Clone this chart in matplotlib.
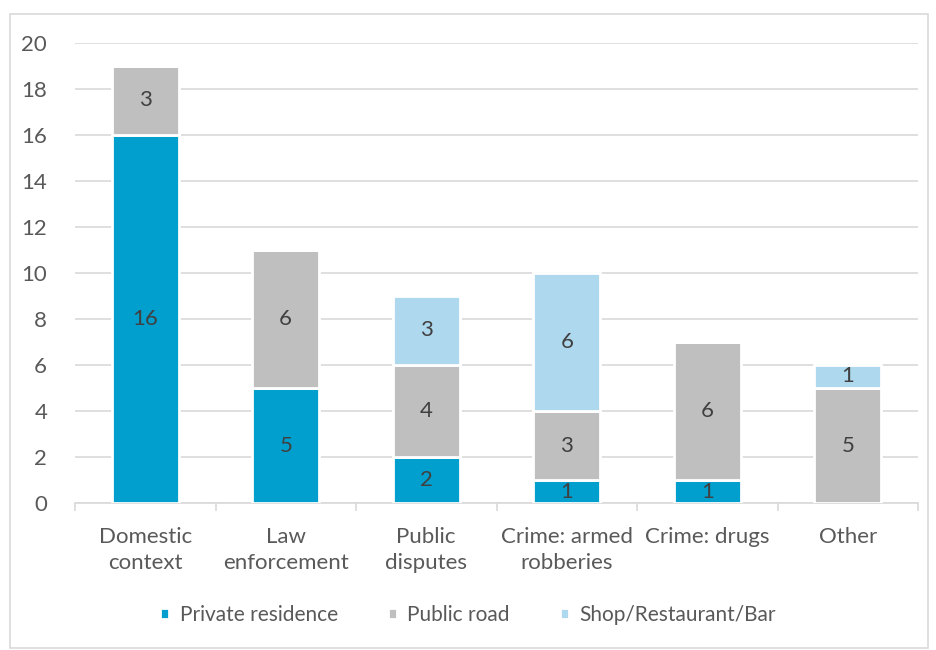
import numpy as np
import matplotlib.pyplot as plt
from matplotlib.patches import Rectangle

# data
categories = ["Domestic\ncontext", "Law\nenforcement", "Public\ndisputes",
              "Crime: armed\nrobberies", "Crime: drugs", "Other"]
private_res = [16, 5, 2, 1, 1, 0]
public_road = [3, 6, 4, 3, 6, 5]
shop_bar = [0, 0, 3, 6, 0, 1]
series_names = ["Private residence", "Public road", "Shop/Restaurant/Bar"]
colors = ["#009FCE", "#BFBFBF", "#ADD8EE"]

plt.rcParams['font.family'] = ['Lato', 'DejaVu Sans']
txt = "#595959"
fs = 16

fig = plt.figure(figsize=(9.36, 6.5), dpi=100)
ax = fig.add_axes([75/936, 1-503/650, 843/936, 460/650])

x = np.arange(len(categories))
bottom = np.zeros(len(categories))
for vals, name, col in zip([private_res, public_road, shop_bar], series_names, colors):
    vals = np.array(vals, dtype=float)
    bars = ax.bar(x, vals, 0.475, bottom=bottom, color=col, edgecolor="white",
                  linewidth=2, label=name, zorder=3)
    for b, v in zip(bars, vals):
        if v > 0:
            ax.text(b.get_x()+b.get_width()/2, b.get_y()+v/2, f"{int(v)}",
                    ha="center", va="center", fontsize=fs, color="#404040", zorder=4)
    bottom += vals

ax.set_xlim(-0.5, len(categories)-0.5)
ax.set_ylim(0, 20)
ax.set_yticks(np.arange(0, 21, 2))
ax.grid(axis="y", color="#D9D9D9", linewidth=1.2, zorder=0)
ax.set_xticks(x)
ax.set_xticklabels(categories, linespacing=1.4)
ax.set_xticks(np.arange(-0.5, len(categories), 1), minor=True)
ax.tick_params(axis="x", which="major", length=0, pad=17, labelsize=fs, labelcolor=txt)
ax.tick_params(axis="x", which="minor", length=6, color="#D9D9D9", width=1.2)
ax.tick_params(axis="y", length=0, pad=20, labelsize=fs, labelcolor=txt)
for s in ["top", "right", "left"]:
    ax.spines[s].set_visible(False)
ax.spines["bottom"].set_color("#D9D9D9")
ax.spines["bottom"].set_linewidth(1.2)

leg = fig.legend(loc="center", bbox_to_anchor=(0.5, 1-615/650), ncol=3, frameon=False,
                 fontsize=15, handlelength=0.45, handleheight=0.45, columnspacing=2.4,
                 handletextpad=0.5)
for t in leg.get_texts():
    t.set_color(txt)

fig.patches.append(Rectangle((10/936, 2/650), 918/936, 634/650, transform=fig.transFigure,
                             fill=False, edgecolor="#D9D9D9", linewidth=1.2))

fig.savefig("out.png", dpi=100)
